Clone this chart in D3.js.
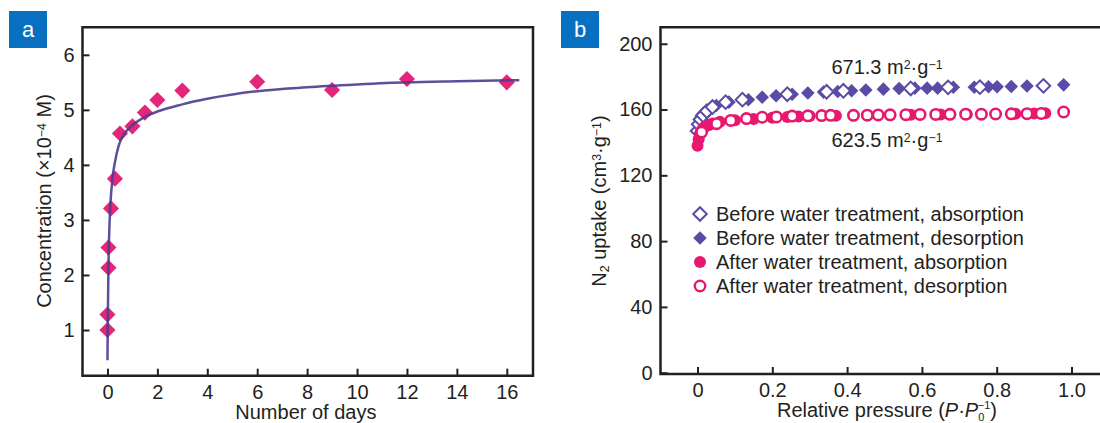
<!DOCTYPE html>
<html>
<head>
<meta charset="utf-8">
<script src="https://cdn.jsdelivr.net/npm/d3@7"></script>
<style>
  body { margin: 0; background: #fff; }
  svg { display: block; font-family: "Liberation Sans", Arial, sans-serif; }
</style>
</head>
<body>
<svg id="chart" width="1100" height="423"></svg>
<script>
// panel a: concentration vs days
var daysX = [0, 0, 0.04, 0.04, 0.14, 0.3, 0.5, 1, 1.5, 2, 3, 6, 9, 12, 16];
var concY = [1.0, 1.28, 2.13, 2.5, 3.21, 3.75, 4.57, 4.7, 4.95, 5.18, 5.35, 5.51, 5.36, 5.56, 5.5];
var fitX = [0, 0.01, 0.03, 0.05, 0.08, 0.12, 0.2, 0.3, 0.45, 0.7, 1, 1.5, 2, 3, 4, 6, 8, 10, 12, 14, 16.5];
var fitY = [0.45, 1.0, 1.8, 2.4, 2.9, 3.3, 3.75, 4.05, 4.35, 4.58, 4.72, 4.87, 4.97, 5.1, 5.2, 5.34, 5.41, 5.46, 5.5, 5.52, 5.54];
var daysTicks = [0, 2, 4, 6, 8, 10, 12, 14, 16];
var concTicks = [1, 2, 3, 4, 5, 6];

// panel b: N2 isotherms
var bdX = [0.005, 0.01, 0.015, 0.02, 0.03, 0.04, 0.05, 0.084, 0.136, 0.173, 0.21, 0.253, 0.295, 0.337, 0.375, 0.412, 0.45, 0.497, 0.539, 0.581, 0.614, 0.642, 0.684, 0.74, 0.778, 0.801, 0.839, 0.881, 0.923, 0.979];
var bdY = [154, 156, 157.5, 158.5, 160, 161.5, 162.5, 164.5, 166, 167.5, 168.4, 169.3, 170, 170.6, 171, 171.4, 171.9, 172.4, 172.8, 173, 173, 173, 173.5, 173.6, 173.8, 173.8, 174, 174.3, 174.4, 175];
var baX = [0.0, 0.003, 0.008, 0.015, 0.025, 0.04, 0.075, 0.12, 0.24, 0.345, 0.39, 0.57, 0.67, 0.755, 0.925];
var baY = [147, 151, 154, 156.5, 159, 161.5, 164.5, 166, 169.3, 170.8, 171.4, 172.8, 173.5, 173.6, 174.4];
var aaX = [0.0, 0.003, 0.006, 0.01, 0.015, 0.02, 0.03, 0.04, 0.06, 0.1, 0.15, 0.2, 0.24, 0.27, 0.3, 0.37, 0.57, 0.65, 0.72, 0.85, 0.9, 0.93];
var aaY = [138, 142, 145, 147, 148.5, 149.5, 150.5, 151.5, 152.5, 153.5, 154.3, 155, 155.5, 155.7, 156, 156.2, 156.8, 157, 157.2, 157.5, 157.6, 157.8];
var adX = [0.011, 0.051, 0.089, 0.131, 0.173, 0.211, 0.253, 0.295, 0.332, 0.356, 0.417, 0.454, 0.483, 0.515, 0.557, 0.595, 0.637, 0.675, 0.717, 0.759, 0.797, 0.839, 0.881, 0.919, 0.979];
var adY = [146.3, 151.4, 153.4, 154.5, 155.3, 155.5, 156, 156.2, 156.3, 156.5, 156.5, 156.6, 156.7, 156.8, 156.9, 157, 157, 157.1, 157.2, 157.2, 157.3, 157.4, 157.5, 157.6, 158.5];
var pressTicks = [0, 0.2, 0.4, 0.6, 0.8, 1.0];
var uptakeTicks = [0, 40, 80, 120, 160, 200];
var legendLabels = [
    "Before water treatment, absorption",
    "Before water treatment, desorption",
    "After water treatment, absorption",
    "After water treatment, desorption"
];

var ink = "#231f20";
var pink = "#e3267a";
var purple = "#5a4ba6";
var hotPink = "#e8186f";
var badge = "#0870c1";

var svg = d3.select("#chart");

function pairs(xs, ys) {
    return xs.map(function (x, i) { return [x, ys[i]]; });
}

// text with sub/superscripts: parts = [[str, kind]], kind: "", "sup", "sub", "i"
function richText(sel, parts, size) {
    parts.forEach(function (p) {
        var t = sel.append("tspan").text(p[0]);
        if (p[1] === "sup") t.attr("font-size", size * 0.62).attr("baseline-shift", "45%");
        if (p[1] === "sub") t.attr("font-size", size * 0.62).attr("baseline-shift", "-25%");
        if (p[1] === "i") t.attr("font-style", "italic");
    });
    return sel;
}

function badgeBox(x, y, letter) {
    svg.append("rect").attr("x", x).attr("y", y).attr("width", 38).attr("height", 37).attr("fill", badge);
    svg.append("text").attr("x", x + 19).attr("y", y + 26).attr("text-anchor", "middle")
        .attr("fill", "#fff").attr("font-size", 22).text(letter);
}

function drawAxes(g, x, y, xTicks, yTicks, xFmt, yFmt, w, h) {
    var xa = g.append("g").attr("transform", "translate(0," + h + ")")
        .call(d3.axisBottom(x).tickValues(xTicks).tickSize(-7).tickPadding(9).tickFormat(xFmt));
    var ya = g.append("g")
        .call(d3.axisLeft(y).tickValues(yTicks).tickSize(-7).tickPadding(8).tickFormat(yFmt));
    [xa, ya].forEach(function (a) {
        a.select(".domain").remove();
        a.selectAll(".tick line").attr("stroke", ink).attr("stroke-width", 2);
        a.selectAll(".tick text").attr("fill", ink).attr("font-size", 20).attr("font-family", "Liberation Sans, Arial, sans-serif");
    });
}

// ---------- panel a ----------
(function () {
    var left = 82.5, top = 27.3, w = 533 - 82.5, h = 375.7 - 27.3;
    var g = svg.append("g").attr("transform", "translate(" + left + "," + top + ")");
    var x = d3.scaleLinear().domain([-1, 17.05]).range([0, w]);
    var y = d3.scaleLinear().domain([0.17, 6.5]).range([h, 0]);

    drawAxes(g, x, y, daysTicks, concTicks, d3.format("d"), d3.format("d"), w, h);

    var line = d3.line().x(function (d) { return x(d[0]); }).y(function (d) { return y(d[1]); })
        .curve(d3.curveMonotoneX);

    var sym = d3.symbol().type(d3.symbolSquare).size(130);
    g.selectAll(".pt").data(pairs(daysX, concY)).enter().append("path")
        .attr("d", sym)
        .attr("transform", function (d) { return "translate(" + x(d[0]) + "," + y(d[1]) + ") rotate(45)"; })
        .attr("fill", pink);

    g.append("path").datum(pairs(fitX, fitY)).attr("d", line)
        .attr("fill", "none").attr("stroke", "#4b3c8e").attr("stroke-width", 2.5).attr("opacity", 0.9);

    g.append("path").attr("d", "M" + w + ",0H0V" + h + "H" + w + "Z")
        .attr("fill", "none").attr("stroke", ink).attr("stroke-width", 2.5);

    g.append("text").attr("x", x(7.95)).attr("y", 419 - top).attr("text-anchor", "middle")
        .attr("fill", ink).attr("font-size", 20).text("Number of days");

    var yl = svg.append("text").attr("transform", "translate(51,201) rotate(-90)")
        .attr("text-anchor", "middle").attr("fill", ink).attr("font-size", 20);
    richText(yl, [["Concentration (×10", ""], ["−4", "sup"], [" M)", ""]], 20);
})();

// ---------- panel b ----------
(function () {
    var left = 660.5, top = 27.3, w = 1103 - 660.5, h = 374 - 27.3;
    var g = svg.append("g").attr("transform", "translate(" + left + "," + top + ")");
    var x = d3.scaleLinear().domain([-0.099, (1103 - 697.5) / 374]).range([0, w]);
    var y = d3.scaleLinear().domain([-0.8, 210]).range([h, 0]);

    drawAxes(g, x, y, pressTicks, uptakeTicks,
        function (d) { return d === 0 ? "0" : d3.format(".1f")(d); }, d3.format("d"), w, h);

    var dia = d3.symbol().type(d3.symbolSquare).size(92);
    function diamonds(data, filled) {
        g.append("g").selectAll("path").data(data).enter().append("path")
            .attr("d", dia)
            .attr("transform", function (d) { return "translate(" + x(d[0]) + "," + y(d[1]) + ") rotate(45)"; })
            .attr("fill", filled ? purple : "#fff")
            .attr("stroke", filled ? "none" : purple).attr("stroke-width", 2);
    }
    function circles(data, filled) {
        g.append("g").selectAll("circle").data(data).enter().append("circle")
            .attr("cx", function (d) { return x(d[0]); }).attr("cy", function (d) { return y(d[1]); })
            .attr("r", filled ? 6 : 5.2)
            .attr("fill", filled ? hotPink : "#fff")
            .attr("stroke", filled ? "none" : hotPink).attr("stroke-width", 2.6);
    }
    diamonds(pairs(bdX, bdY), true);
    diamonds(pairs(baX, baY), false);
    circles(pairs(aaX, aaY), true);
    circles(pairs(adX, adY), false);

    g.append("path").attr("d", "M" + w + ",0H0V" + h + "H" + w)
        .attr("fill", "none").attr("stroke", ink).attr("stroke-width", 2.5);

    var t1 = g.append("text").attr("x", 887 - left).attr("y", 74 - top).attr("text-anchor", "middle")
        .attr("fill", ink).attr("font-size", 20);
    richText(t1, [["671.3 m", ""], ["2", "sup"], ["·g", ""], ["−1", "sup"]], 20);
    var t2 = g.append("text").attr("x", 887 - left).attr("y", 147 - top).attr("text-anchor", "middle")
        .attr("fill", ink).attr("font-size", 20);
    richText(t2, [["623.5 m", ""], ["2", "sup"], ["·g", ""], ["−1", "sup"]], 20);

    // legend
    var lg = svg.append("g");
    legendLabels.forEach(function (label, i) {
        var cy = 214 + i * 24, cx = 700;
        if (i < 2) {
            lg.append("path").attr("d", dia)
                .attr("transform", "translate(" + cx + "," + cy + ") rotate(45)")
                .attr("fill", i === 1 ? purple : "#fff")
                .attr("stroke", i === 1 ? "none" : purple).attr("stroke-width", 2);
        } else {
            lg.append("circle").attr("cx", cx).attr("cy", cy).attr("r", i === 2 ? 6 : 5.2)
                .attr("fill", i === 2 ? hotPink : "#fff")
                .attr("stroke", i === 2 ? "none" : hotPink).attr("stroke-width", 2.4);
        }
        lg.append("text").attr("x", 716).attr("y", cy + 7).attr("fill", ink).attr("font-size", 20).text(label);
    });

    var xl = svg.append("text").attr("x", 887).attr("y", 417).attr("text-anchor", "middle")
        .attr("fill", ink).attr("font-size", 20);
    xl.append("tspan").text("Relative pressure (");
    xl.append("tspan").attr("font-style", "italic").text("P");
    xl.append("tspan").text("·");
    xl.append("tspan").attr("font-style", "italic").text("P");
    xl.append("tspan").attr("font-size", 11).attr("dy", 4).text("0");
    xl.append("tspan").attr("font-size", 11).attr("dx", -6.5).attr("dy", -12).text("−1");
    xl.append("tspan").attr("dy", 8).text(")");

    var yl = svg.append("text").attr("transform", "translate(606,201) rotate(-90)")
        .attr("text-anchor", "middle").attr("fill", ink).attr("font-size", 20);
    richText(yl, [["N", ""], ["2", "sub"], [" uptake (cm", ""], ["3", "sup"], ["·g", ""], ["−1", "sup"], [")", ""]], 20);
})();

badgeBox(9, 11, "a");
badgeBox(561, 11, "b");
</script>
</body>
</html>
